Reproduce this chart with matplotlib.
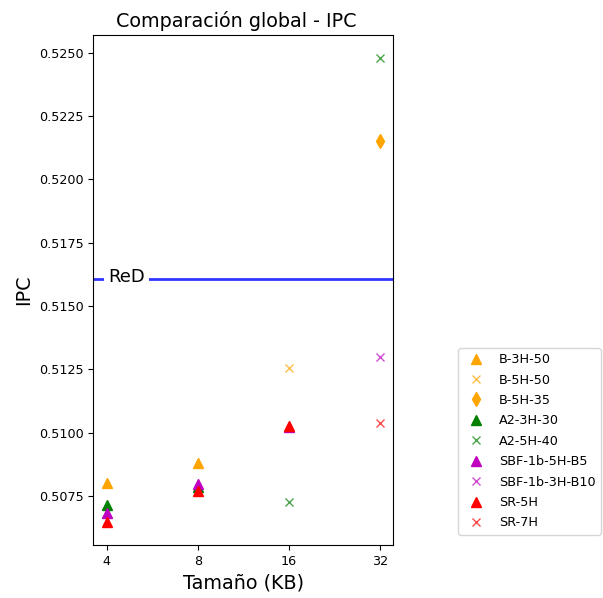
import numpy as np
import matplotlib
matplotlib.use("Agg")
import matplotlib.pyplot as plt
from matplotlib.ticker import ScalarFormatter, NullLocator, FormatStrFormatter

# Tamaños de cache (KB)
b3h50_x = [4, 8]
b3h50_y = [0.50801, 0.50880]
b5h50_x = [16]
b5h50_y = [0.51256]
b5h35_x = [32]
b5h35_y = [0.52150]
a23h30_x = [4, 8]
a23h30_y = [0.50714, 0.50785]
a25h40_x = [16, 32]
a25h40_y = [0.50727, 0.52478]
sbf5_x = [4, 8, 16]
sbf5_y = [0.50683, 0.50796, 0.51024]
sbf3_x = [32]
sbf3_y = [0.51300]
sr5_x = [4, 8, 16]
sr5_y = [0.50648, 0.50770, 0.51025]
sr7_x = [32]
sr7_y = [0.51040]

red_ipc = 0.51607
ticks = [4, 8, 16, 32]

plt.rcParams['font.size'] = 9.2
ms = 6.5
msx = 6

fig = plt.figure(figsize=(6.03, 5.98), dpi=100)
ax = fig.add_axes([93.3 / 603, 53 / 598, 300 / 603, 510 / 598])

ax.plot(b3h50_x, b3h50_y, '^', color='orange', ms=ms, label='B-3H-50')
ax.plot(b5h50_x, b5h50_y, 'x', color='orange', alpha=0.7, ms=msx, label='B-5H-50')
ax.plot(b5h35_x, b5h35_y, 'd', color='orange', ms=ms + 1, label='B-5H-35')
ax.plot(a23h30_x, a23h30_y, '^', color='green', ms=ms, label='A2-3H-30')
ax.plot(a25h40_x, a25h40_y, 'x', color='green', alpha=0.7, ms=msx, label='A2-5H-40')
ax.plot(sbf5_x, sbf5_y, '^', color='m', ms=ms, label='SBF-1b-5H-B5')
ax.plot(sbf3_x, sbf3_y, 'x', color='m', alpha=0.7, ms=msx, label='SBF-1b-3H-B10')
ax.plot(sr5_x, sr5_y, '^', color='r', ms=ms, label='SR-5H')
ax.plot(sr7_x, sr7_y, 'x', color='r', alpha=0.7, ms=msx, label='SR-7H')

ax.axhline(red_ipc, color='b', alpha=0.8, linewidth=2)
ax.text(4.03, red_ipc + 0.00006, 'ReD', fontsize=13, va='center', ha='left',
        bbox=dict(facecolor='white', edgecolor='none', pad=3))

ax.set_xscale('log', base=2)
ax.set_xticks(ticks)
ax.xaxis.set_major_formatter(ScalarFormatter())
ax.xaxis.set_minor_locator(NullLocator())
ax.set_yticks([0.5075, 0.51, 0.5125, 0.515, 0.5175, 0.52, 0.5225, 0.525])
ax.yaxis.set_major_formatter(FormatStrFormatter('%.4f'))

ax.set_title('Comparación global - IPC', fontsize=13.8, x=0.475)
ax.set_xlabel('Tamaño (KB)', fontsize=13.8)
ax.set_ylabel('IPC', fontsize=13.8)

ax.legend(loc='upper left', bbox_to_anchor=(458 / 603, 1 - 348 / 598),
          bbox_transform=fig.transFigure, borderaxespad=0, labelspacing=0.58)

fig.savefig('out.png', dpi=100)
